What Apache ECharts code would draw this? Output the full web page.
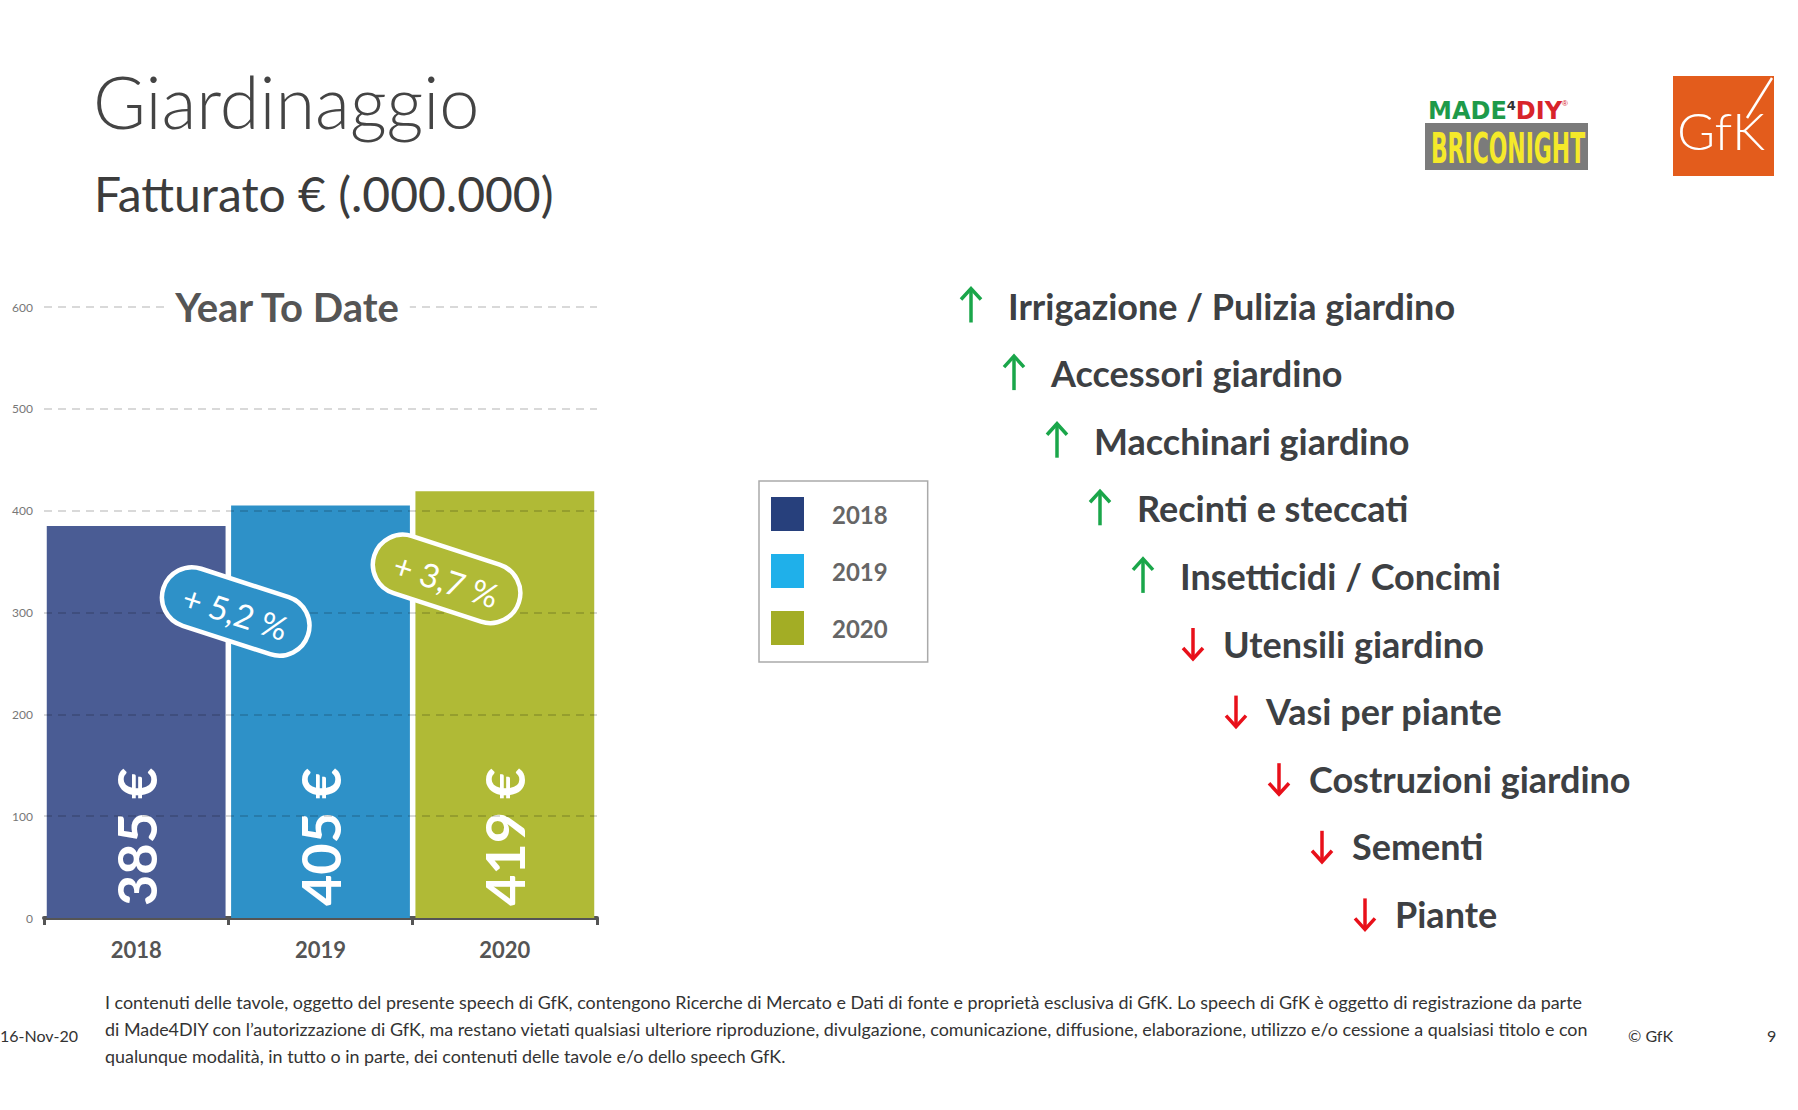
<!DOCTYPE html>
<html><head><meta charset="utf-8">
<script src="https://cdn.jsdelivr.net/npm/echarts@6/dist/echarts.min.js"></script>
<style>html,body{margin:0;padding:0;background:#fff}#c{width:1798px;height:1110px}</style>
</head><body><div id="c"></div>
<script>
// ---- data ----
const years = ['2018', '2019', '2020'];
const revenue = [385, 405, 419];
const barColors = ['#4a5c94', '#2e91c8', '#b0ba36'];
const legendColors = ['#27407c', '#1fb0ea', '#a3ad25'];
const yTicks = [0, 100, 200, 300, 400, 500, 600];
const changes = ['+ 5,2 %', '+ 3,7 %'];
const changeColors = ['#2e91c8', '#b0ba36'];
const changeAnchorCat = [0.54, 1.684];   // position along category axis
const changeAnchorVal = [301, 333];      // position along value axis
const trendLabels = ['Irrigazione / Pulizia giardino', 'Accessori giardino', 'Macchinari giardino',
  'Recinti e steccati', 'Insetticidi / Concimi', 'Utensili giardino', 'Vasi per piante',
  'Costruzioni giardino', 'Sementi', 'Piante'];
const trendDirs = ['up', 'up', 'up', 'up', 'up', 'down', 'down', 'down', 'down', 'down'];
const footerLines = [
  'I contenuti delle tavole, oggetto del presente speech di GfK, contengono Ricerche di Mercato e Dati di fonte e proprietà esclusiva di GfK. Lo speech di GfK è oggetto di registrazione da parte',
  'di Made4DIY con l\u2019autorizzazione di GfK, ma restano vietati qualsiasi ulteriore riproduzione, divulgazione, comunicazione, diffusione, elaborazione, utilizzo e/o cessione a qualsiasi titolo e con',
  'qualunque modalità, in tutto o in parte, dei contenuti delle tavole e/o dello speech GfK.'
];

const chart = echarts.init(document.getElementById('c'), null, {renderer: 'svg'});
const FONT = 'Lato, "Open Sans", sans-serif';
const COND = '"DejaVu Sans Condensed", "Liberation Sans Narrow", sans-serif';

const series = years.map((y, i) => ({
  name: y,
  type: 'bar',
  barWidth: '97%',
  barGap: '-100%',
  data: years.map((_, j) => (j === i ? revenue[i] : '-')),
  itemStyle: {color: barColors[i]},
  label: {
    show: true, position: 'insideBottom', rotate: 90, align: 'left', verticalAlign: 'middle',
    distance: 12, formatter: p => p.value + ' €', color: '#fff', fontSize: 54,
    fontWeight: 'bold', fontFamily: FONT
  },
  markLine: i === years.length - 1 ? {
    silent: true, symbol: ['none', 'none'], label: {show: false},
    lineStyle: {type: [8, 6], color: 'rgba(0,0,0,0.2)', width: 1.5},
    data: yTicks.slice(1).map(v => ({yAxis: v}))
  } : undefined
}));

chart.setOption({
  backgroundColor: '#fff',
  animation: false,
  textStyle: {fontFamily: FONT},
  grid: {left: 44, right: 1201, top: 307, bottom: 192},
  xAxis: {
    type: 'category', data: years,
    axisLine: {lineStyle: {color: '#555', width: 4}},
    axisTick: {show: true, length: 7, lineStyle: {color: '#555', width: 3}},
    axisLabel: {color: '#555', fontSize: 22, fontWeight: 'bold', margin: 20, fontFamily: FONT}
  },
  yAxis: {
    type: 'value', min: 0, max: 600, interval: 100,
    axisLine: {show: false}, axisTick: {show: false},
    splitLine: {show: false},
    axisLabel: {color: '#777', fontSize: 12, margin: 11, fontFamily: FONT}
  },
  legend: {
    orient: 'vertical', left: 759, top: 481,
    itemWidth: 33, itemHeight: 34, itemGap: 23,
    padding: [16, 40, 17, 12],
    borderColor: '#aaa', borderWidth: 1.5,
    selectedMode: false,
    textStyle: {color: '#666', fontSize: 24, fontWeight: 'bold', fontFamily: FONT, padding: [0, 0, 0, 23]},
    data: years.map((y, i) => ({name: y, icon: 'rect', itemStyle: {color: legendColors[i]}}))
  },
  series: series
});

// ---- annotations ----
const g = [];
g.push({type: 'text', x: 93, y: 101, z: 100, style: {text: 'Giardinaggio', fontSize: 72, fontWeight: 300, fontFamily: FONT, fill: '#444', verticalAlign: 'middle'}});
g.push({type: 'text', x: 94, y: 193, z: 100, style: {text: 'Fatturato € (.000.000)', fontSize: 48, fontWeight: 'normal', fontFamily: FONT, fill: '#3c3c3c', verticalAlign: 'middle'}});
g.push({type: 'text', x: 287, y: 307, z: 100, style: {text: 'Year To Date', fontSize: 40, fontWeight: 'bold', fontFamily: FONT, fill: '#555', align: 'center', verticalAlign: 'middle', backgroundColor: '#fff', padding: [4, 10]}});

// change badges
changes.forEach((t, i) => {
  const p0 = chart.convertToPixel({gridIndex: 0}, [0, changeAnchorVal[i]]);
  const p1 = chart.convertToPixel({gridIndex: 0}, [1, changeAnchorVal[i]]);
  const x = p0[0] + (p1[0] - p0[0]) * changeAnchorCat[i];
  const y = p0[1];
  g.push({
    type: 'group', x: x, y: y, rotation: -18 * Math.PI / 180, z: 100,
    children: [
      {type: 'rect', z: 100, shape: {x: -76, y: -30, width: 152, height: 60, r: 30}, style: {fill: changeColors[i], stroke: '#fff', lineWidth: 4.5}},
      {type: 'text', z: 101, x: 0, y: 1, style: {text: t, fontSize: 33, fontFamily: FONT, fill: '#fff', align: 'center', verticalAlign: 'middle'}}
    ]
  });
});

// trend list
trendLabels.forEach((t, i) => {
  const tx = 1008 + i * 43.0;
  const ty = 305.5 + i * 67.6;
  const up = trendDirs[i] === 'up';
  const ax = up ? tx - 37 : tx - 30;
  const h = up ? 34 : 31;
  const col = up ? '#1aa64a' : '#e8101a';
  const tip = up ? -h / 2 : h / 2;
  const hd = up ? 11 : -11;
  g.push({type: 'text', x: tx, y: ty, z: 100, style: {text: t, fontSize: 36, fontWeight: 'bold', fontFamily: FONT, fill: '#3d4043', verticalAlign: 'middle'}});
  g.push({type: 'group', x: ax, y: ty, z: 100, children: [
    {type: 'line', shape: {x1: 0, y1: -h / 2, x2: 0, y2: h / 2}, style: {stroke: col, lineWidth: 3.5}},
    {type: 'polyline', shape: {points: [[-10, tip + hd], [0, tip], [10, tip + hd]]}, style: {stroke: col, lineWidth: 3.5, fill: null}}
  ]});
});

// footer
footerLines.forEach((t, i) => {
  g.push({type: 'text', x: 105, y: 1001.5 + i * 27, z: 100, style: {text: t, fontSize: 17.9, fontFamily: FONT, fill: '#333', verticalAlign: 'middle'}});
});
g.push({type: 'text', x: 0, y: 1035, z: 100, style: {text: '16-Nov-20', fontSize: 16, fontFamily: FONT, fill: '#333', verticalAlign: 'middle'}});
g.push({type: 'text', x: 1628, y: 1035, z: 100, style: {text: '© GfK', fontSize: 16, fontFamily: FONT, fill: '#333', verticalAlign: 'middle'}});
g.push({type: 'text', x: 1767, y: 1035, z: 100, style: {text: '9', fontSize: 16, fontFamily: FONT, fill: '#333', verticalAlign: 'middle'}});

// logos
g.push({type: 'rect', z: 100, shape: {x: 1425, y: 123, width: 163, height: 47}, style: {fill: '#7b7b7b'}});
g.push({type: 'text', z: 101, x: 1508, y: 148, scaleX: 0.58, style: {text: 'BRICONIGHT', fontSize: 42, fontWeight: 'bold', fontFamily: COND, fill: '#f5e92a', align: 'center', verticalAlign: 'middle'}});
g.push({type: 'text', z: 101, x: 1428, y: 111, style: {
  text: '{g|MADE}{k|4}{r|DIY}{s|®}', verticalAlign: 'middle',
  rich: {
    g: {fontSize: 24, fontWeight: 'bold', fontFamily: '"DejaVu Sans", sans-serif', fill: '#1e9a4a'},
    k: {fontSize: 13, fontWeight: 'bold', fontFamily: '"DejaVu Sans", sans-serif', fill: '#333', verticalAlign: 'top'},
    r: {fontSize: 24, fontWeight: 'bold', fontFamily: '"DejaVu Sans", sans-serif', fill: '#d8242b'},
    s: {fontSize: 8, fill: '#d8242b', verticalAlign: 'top'}
  }}});
g.push({type: 'rect', z: 100, shape: {x: 1673, y: 76, width: 101, height: 100}, style: {fill: '#e35c1c'}});
g.push({type: 'text', z: 101, x: 1721, y: 130, style: {text: 'GfK', fontSize: 52, fontWeight: 300, fontFamily: FONT, fill: '#fff', align: 'center', verticalAlign: 'middle'}});
g.push({type: 'line', z: 101, shape: {x1: 1772, y1: 78, x2: 1747, y2: 118}, style: {stroke: '#fff', lineWidth: 2.5}});

chart.setOption({graphic: g});
</script></body></html>
